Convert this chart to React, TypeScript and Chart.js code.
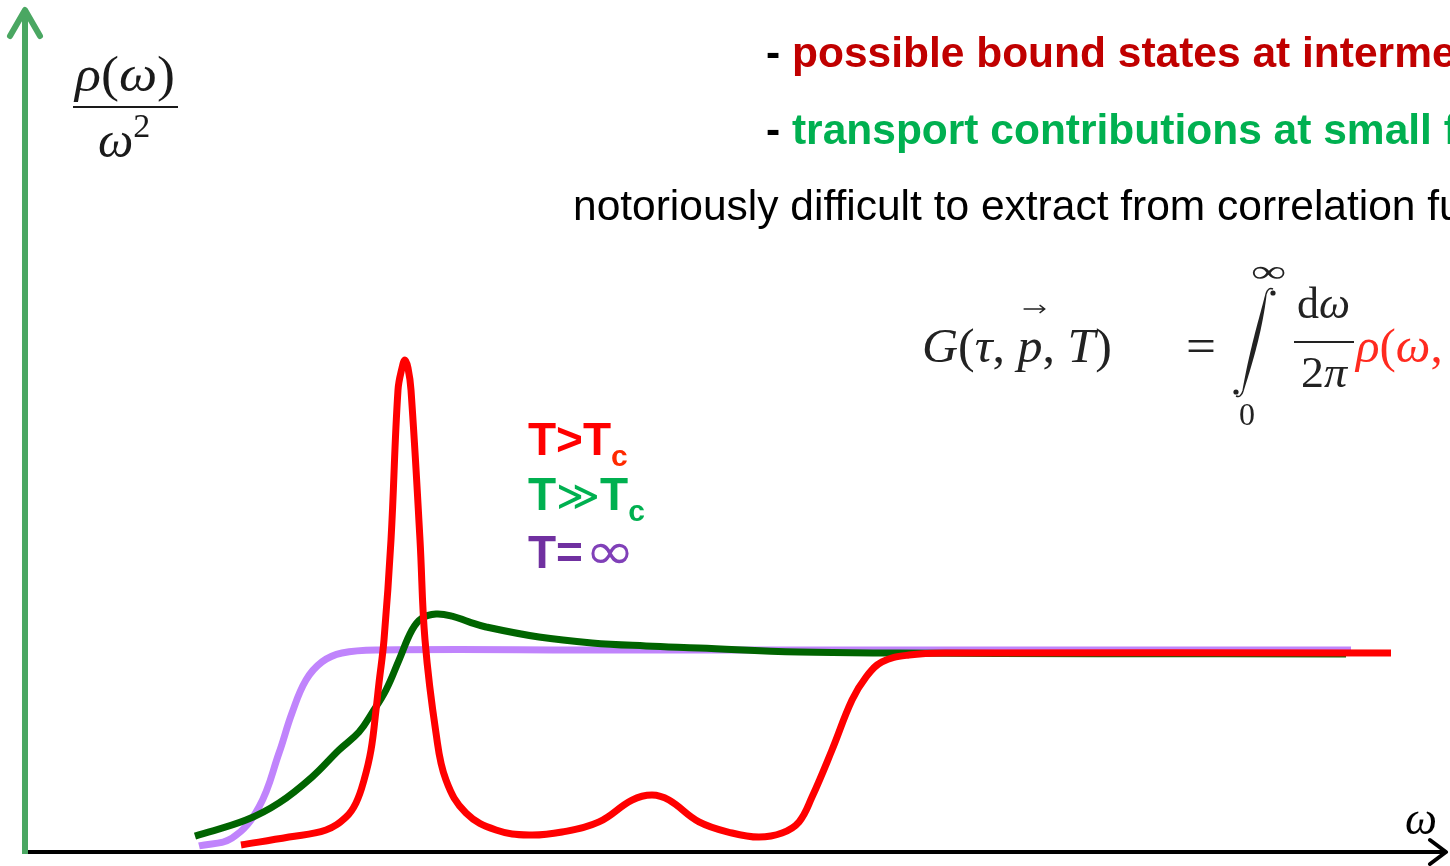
import React, { useEffect, useRef } from 'react';
import { Chart, registerables } from 'chart.js';

Chart.register(...registerables);

// ---- data (omega in arbitrary units, rho/omega^2 normalised to the high-omega plateau) ----
const omegaInf = [1.74, 2.07, 2.34, 2.54, 2.67, 2.81, 2.97, 3.17, 3.54, 5.74, 9.74, 13.26];
const rhoInf = [0.03, 0.069, 0.223, 0.49, 0.688, 0.851, 0.941, 0.985, 1.0, 1.0, 1.0, 1.0];

const omegaHigh = [1.7, 2.21, 2.54, 2.87, 3.14, 3.34, 3.47, 3.61, 3.74, 3.87, 3.97, 4.11, 4.27, 4.44, 4.61, 5.14, 5.67, 6.21, 6.74, 7.74, 8.74, 10.74, 13.21];
const rhoHigh = [0.079, 0.158, 0.243, 0.371, 0.505, 0.594, 0.688, 0.802, 0.95, 1.099, 1.158, 1.178, 1.168, 1.139, 1.114, 1.064, 1.035, 1.02, 1.01, 0.99, 0.985, 0.982, 0.98];

const omegaTc = [2.16, 2.64, 3.01, 3.21, 3.31, 3.39, 3.46, 3.51, 3.54, 3.59, 3.66, 3.73, 3.77, 3.8, 3.83, 3.86, 3.95, 4.0, 4.11, 4.21, 4.41, 4.71, 5.04, 5.37, 5.74, 6.07, 6.27, 6.44, 6.74, 7.07, 7.34, 7.57, 7.74, 7.87, 8.07, 8.27, 8.41, 8.57, 8.84, 9.24, 13.66];
const rhoTc = [0.035, 0.074, 0.109, 0.173, 0.243, 0.356, 0.505, 0.703, 0.837, 1.05, 1.545, 2.287, 2.396, 2.436, 2.396, 2.287, 1.545, 1.05, 0.589, 0.356, 0.193, 0.109, 0.084, 0.099, 0.149, 0.257, 0.282, 0.257, 0.149, 0.094, 0.074, 0.094, 0.149, 0.272, 0.505, 0.752, 0.866, 0.941, 0.975, 0.985, 0.985];

const seriesLabels = ['T>Tc', 'T≫Tc', 'T=∞'];
const seriesColors = ['#ff0000', '#006400', '#c084fc'];

const headerLines = [
  'possible bound states at intermediate temperatures',
  'transport contributions at small frequencies',
  'notoriously difficult to extract from correlation functions',
];

const SERIF = '"Liberation Serif", "Times New Roman", serif';
const SANS = '"Liberation Sans", Arial, sans-serif';

type Run = { t: string; f: string; c?: string; dy?: number };

function drawRuns(ctx: CanvasRenderingContext2D, runs: Run[], x: number, y: number, color: string, fitWidth?: number): number[] {
  const widths = runs.map((r) => {
    ctx.font = r.f;
    return ctx.measureText(r.t).width;
  });
  const total = widths.reduce((a, b) => a + b, 0);
  const sx = fitWidth ? fitWidth / total : 1;
  const starts: number[] = [];
  ctx.save();
  ctx.textBaseline = 'alphabetic';
  ctx.textAlign = 'left';
  let cx = 0;
  runs.forEach((r, i) => {
    starts.push(x + cx * sx);
    ctx.save();
    ctx.translate(x + cx * sx, y + (r.dy || 0));
    ctx.scale(sx, 1);
    ctx.font = r.f;
    ctx.fillStyle = r.c || color;
    ctx.fillText(r.t, 0, 0);
    ctx.restore();
    cx += widths[i];
  });
  starts.push(x + cx * sx);
  ctx.restore();
  return starts;
}

// integral sign drawn as a tapered slanted stroke with hooked ends
function drawIntegral(ctx: CanvasRenderingContext2D, color: string) {
  const p0 = { x: 1266, y: 294 };
  const p1 = { x: 1261, y: 322 };
  const p2 = { x: 1250, y: 362 };
  const p3 = { x: 1243, y: 391 };
  const bez = (t: number) => {
    const u = 1 - t;
    return {
      x: u * u * u * p0.x + 3 * u * u * t * p1.x + 3 * u * t * t * p2.x + t * t * t * p3.x,
      y: u * u * u * p0.y + 3 * u * u * t * p1.y + 3 * u * t * t * p2.y + t * t * t * p3.y,
    };
  };
  const left: { x: number; y: number }[] = [];
  const rightSide: { x: number; y: number }[] = [];
  const N = 40;
  for (let i = 0; i <= N; i++) {
    const t = i / N;
    const a = bez(Math.max(0, t - 0.01));
    const b = bez(Math.min(1, t + 0.01));
    const dx = b.x - a.x;
    const dy = b.y - a.y;
    const len = Math.hypot(dx, dy) || 1;
    const nx = -dy / len;
    const ny = dx / len;
    const w = (1.3 + 3.6 * Math.sin(Math.PI * t)) / 2;
    const c = bez(t);
    left.push({ x: c.x + nx * w, y: c.y + ny * w });
    rightSide.push({ x: c.x - nx * w, y: c.y - ny * w });
  }
  ctx.save();
  ctx.fillStyle = color;
  ctx.strokeStyle = color;
  ctx.beginPath();
  left.forEach((p, i) => (i ? ctx.lineTo(p.x, p.y) : ctx.moveTo(p.x, p.y)));
  for (let i = rightSide.length - 1; i >= 0; i--) ctx.lineTo(rightSide[i].x, rightSide[i].y);
  ctx.closePath();
  ctx.fill();
  ctx.lineWidth = 1.5;
  ctx.beginPath();
  ctx.moveTo(p0.x, p0.y);
  ctx.quadraticCurveTo(1268, 287, 1273, 289);
  ctx.stroke();
  ctx.beginPath();
  ctx.arc(1273, 293, 2.6, 0, Math.PI * 2);
  ctx.fill();
  ctx.beginPath();
  ctx.moveTo(p3.x, p3.y);
  ctx.quadraticCurveTo(1241, 398, 1236, 396);
  ctx.stroke();
  ctx.beginPath();
  ctx.arc(1236, 392, 2.6, 0, Math.PI * 2);
  ctx.fill();
  ctx.restore();
}

const decorPlugin = {
  id: 'decor',
  afterDraw(chart: any) {
    const ctx: CanvasRenderingContext2D = chart.ctx;
    const xs = chart.scales.x;
    const ys = chart.scales.y;
    const x0 = xs.getPixelForValue(0);
    const y0 = ys.getPixelForValue(0);
    const right = chart.chartArea.right;
    const top = chart.chartArea.top;

    ctx.save();
    // x axis (black arrow)
    ctx.strokeStyle = '#000';
    ctx.lineWidth = 4;
    ctx.lineCap = 'butt';
    ctx.beginPath();
    ctx.moveTo(x0 - 2, y0);
    ctx.lineTo(right - 4, y0);
    ctx.stroke();
    ctx.lineCap = 'round';
    ctx.lineJoin = 'round';
    ctx.beginPath();
    ctx.moveTo(right - 20, y0 - 12);
    ctx.lineTo(right - 4, y0);
    ctx.lineTo(right - 20, y0 + 12);
    ctx.stroke();

    // y axis (green arrow)
    ctx.strokeStyle = '#4aa762';
    ctx.lineWidth = 6;
    ctx.lineCap = 'butt';
    ctx.beginPath();
    ctx.moveTo(x0, y0 + 2);
    ctx.lineTo(x0, top + 12);
    ctx.stroke();
    ctx.lineCap = 'round';
    ctx.lineJoin = 'round';
    ctx.beginPath();
    ctx.moveTo(x0 - 15, top + 36);
    ctx.lineTo(x0, top + 10);
    ctx.lineTo(x0 + 15, top + 36);
    ctx.stroke();
    ctx.restore();

    // y-axis label rho(omega)/omega^2
    const lf = `italic 50px ${SERIF}`;
    const rf = `50px ${SERIF}`;
    drawRuns(ctx, [
      { t: 'ρ', f: lf },
      { t: '(', f: rf },
      { t: 'ω', f: lf },
      { t: ')', f: rf },
    ], 75, 91, '#1a1a1a', 100);
    ctx.fillStyle = '#1a1a1a';
    ctx.fillRect(73, 106, 105, 2);
    drawRuns(ctx, [
      { t: 'ω', f: lf },
      { t: '2', f: `34px ${SERIF}`, dy: -20 },
    ], 98, 157, '#1a1a1a');

    // x-axis label
    drawRuns(ctx, [{ t: 'ω', f: `italic 46px ${SERIF}` }], 1405, 834, '#000', 32);

    // header text
    const hb = `bold 42.5px ${SANS}`;
    drawRuns(ctx, [{ t: '- ', f: hb, c: '#000' }, { t: headerLines[0], f: hb, c: '#c00000' }], 766, 67, '#000');
    drawRuns(ctx, [{ t: '- ', f: hb, c: '#000' }, { t: headerLines[1], f: hb, c: '#00b050' }], 766, 144, '#000');
    drawRuns(ctx, [{ t: headerLines[2], f: `42.5px ${SANS}` }], 573, 220, '#000');

    // formula
    const fi = `italic 49px ${SERIF}`;
    const fr = `49px ${SERIF}`;
    const st = drawRuns(ctx, [
      { t: 'G', f: fi },
      { t: '(', f: fr },
      { t: 'τ', f: fi },
      { t: ', ', f: fr },
      { t: 'p', f: fi },
      { t: ', ', f: fr },
      { t: 'T', f: fi },
      { t: ')', f: fr },
    ], 922, 362, '#222', 190);
    // vector arrow over p
    const pa = st[4] + 6;
    const pb = st[5] + 2;
    ctx.save();
    ctx.strokeStyle = '#222';
    ctx.lineWidth = 1.6;
    ctx.beginPath();
    ctx.moveTo(pa, 309);
    ctx.lineTo(pb, 309);
    ctx.moveTo(pb - 5, 305);
    ctx.lineTo(pb, 309);
    ctx.lineTo(pb - 5, 313);
    ctx.stroke();
    ctx.restore();
    drawRuns(ctx, [{ t: '=', f: fr }], 1186, 362, '#222', 30);
    drawIntegral(ctx, '#222');
    drawRuns(ctx, [{ t: '∞', f: `32px ${SERIF}` }], 1251, 282, '#222', 35);
    drawRuns(ctx, [{ t: '0', f: `32px ${SERIF}` }], 1239, 425, '#222');
    drawRuns(ctx, [{ t: 'd', f: `44px ${SERIF}` }, { t: 'ω', f: `italic 44px ${SERIF}` }], 1297, 318, '#222', 53);
    ctx.fillStyle = '#222';
    ctx.fillRect(1294, 341, 60, 2);
    drawRuns(ctx, [{ t: '2', f: `44px ${SERIF}` }, { t: 'π', f: `italic 44px ${SERIF}` }], 1301, 387, '#222', 46);
    drawRuns(ctx, [
      { t: 'ρ', f: fi },
      { t: '(', f: fr },
      { t: 'ω', f: fi },
      { t: ', ', f: fr },
      { t: 'p', f: fi },
      { t: ', ', f: fr },
      { t: 'T', f: fi },
      { t: ')', f: fr },
    ], 1356, 362, '#ff2a1f');

    // series legend text
    const lb = `bold 46px ${SANS}`;
    const sb = `bold 30px ${SANS}`;
    drawRuns(ctx, [
      { t: 'T>T', f: lb },
      { t: 'c', f: sb, dy: 11, c: '#ff2a00' },
    ], 528, 455, '#ff0000');
    drawRuns(ctx, [
      { t: 'T', f: lb },
      { t: '≫', f: `42px "DejaVu Sans", sans-serif` },
      { t: 'T', f: lb },
      { t: 'c', f: sb, dy: 11 },
    ], 528, 510, '#00b050');
    drawRuns(ctx, [{ t: 'T=', f: lb }], 528, 568, '#7030a0');
    drawRuns(ctx, [{ t: '∞', f: `52px "DejaVu Sans", sans-serif` }], 585, 569, '#8040b8', 50);
  },
};

function toPoints(xs: number[], ys: number[]) {
  return xs.map((x, i) => ({ x, y: ys[i] }));
}

export default function App() {
  const ref = useRef<HTMLCanvasElement | null>(null);
  useEffect(() => {
    document.body.style.margin = '0';
    const canvas = ref.current!;
    const chart = new Chart(canvas, {
      type: 'line',
      data: {
        datasets: [
          { label: seriesLabels[0], data: toPoints(omegaTc, rhoTc), borderColor: seriesColors[0] },
          { label: seriesLabels[1], data: toPoints(omegaHigh, rhoHigh), borderColor: seriesColors[1] },
          { label: seriesLabels[2], data: toPoints(omegaInf, rhoInf), borderColor: seriesColors[2] },
        ] as any,
      },
      options: {
        animation: false,
        responsive: false,
        devicePixelRatio: 1,
        events: [],
        layout: { padding: 0 },
        elements: {
          point: { radius: 0 },
          line: { borderWidth: 7, tension: 0.4, fill: false, borderCapStyle: 'butt', borderJoinStyle: 'round' },
        },
        scales: {
          x: { type: 'linear', min: -0.25, max: 14.25, display: false },
          y: { type: 'linear', min: -14 / 202, max: 852 / 202, display: false },
        },
        plugins: { legend: { display: false }, tooltip: { enabled: false } },
      },
      plugins: [decorPlugin],
    });
    return () => chart.destroy();
  }, []);
  return (
    <div style={{ position: 'absolute', left: 0, top: 0, width: 1450, height: 866, background: '#fff' }}>
      <canvas ref={ref} width={1450} height={866} style={{ display: 'block' }} />
    </div>
  );
}
